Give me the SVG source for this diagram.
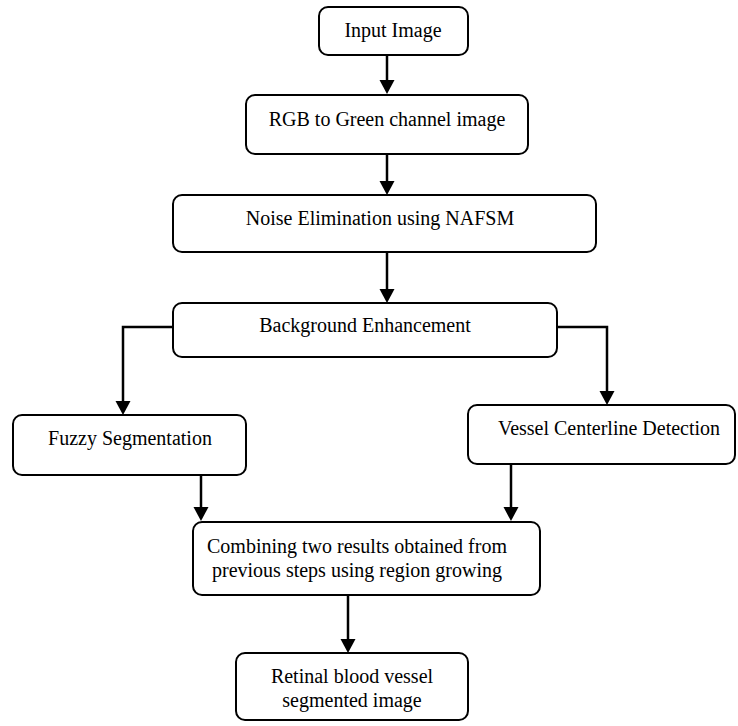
<svg xmlns="http://www.w3.org/2000/svg" width="738" height="726" viewBox="0 0 738 726">
<style>
.box{fill:#fff;stroke:#000;stroke-width:2}
.t{font-family:"Liberation Serif","Times New Roman",serif;font-size:20px;fill:#000;text-anchor:middle}
.c{fill:none;stroke:#000;stroke-width:2.5}
</style>
<defs>
<marker id="ah" markerUnits="userSpaceOnUse" markerWidth="16" markerHeight="16" refX="8" refY="7.5" orient="auto">
<path d="M0,0 L14,7.5 L0,15 z" fill="#000"/>
</marker>
</defs>
<rect width="738" height="726" fill="#fff"/>
<g id="connectors">
<line class="c" x1="387" y1="55" x2="387" y2="88" marker-end="url(#ah)"/>
<line class="c" x1="387" y1="154" x2="387" y2="189" marker-end="url(#ah)"/>
<line class="c" x1="387" y1="252" x2="387" y2="297" marker-end="url(#ah)"/>
<polyline class="c" points="173,327 123,327 123,409" marker-end="url(#ah)"/>
<polyline class="c" points="557,327 607,327 607,399" marker-end="url(#ah)"/>
<line class="c" x1="201" y1="475" x2="201" y2="515" marker-end="url(#ah)"/>
<line class="c" x1="511" y1="464" x2="511" y2="515" marker-end="url(#ah)"/>
<line class="c" x1="348" y1="595" x2="348" y2="647" marker-end="url(#ah)"/>
</g>
<g id="input">
<rect class="box" x="319" y="7" width="149" height="48" rx="9"/>
<text class="t" x="393" y="37">Input Image</text>
</g>
<g id="rgb">
<rect class="box" x="246" y="95" width="282" height="59" rx="9"/>
<text class="t" x="387" y="126">RGB to Green channel image</text>
</g>
<g id="noise">
<rect class="box" x="173" y="195" width="423" height="57" rx="9"/>
<text class="t" x="380" y="225">Noise Elimination using NAFSM</text>
</g>
<g id="background">
<rect class="box" x="173" y="303" width="384" height="54" rx="9"/>
<text class="t" x="365" y="332">Background Enhancement</text>
</g>
<g id="fuzzy">
<rect class="box" x="13" y="415" width="233" height="60" rx="9"/>
<text class="t" x="130" y="445">Fuzzy Segmentation</text>
</g>
<g id="vessel">
<rect class="box" x="468" y="405" width="267" height="59" rx="9"/>
<text class="t" x="609" y="435">Vessel Centerline Detection</text>
</g>
<g id="combine">
<rect class="box" x="193" y="522" width="347" height="73" rx="9"/>
<text class="t" x="357" y="553">Combining two results obtained from</text>
<text class="t" x="357" y="577">previous steps using region growing</text>
</g>
<g id="retinal">
<rect class="box" x="236" y="653" width="232" height="67" rx="9"/>
<text class="t" x="352" y="683">Retinal blood vessel</text>
<text class="t" x="352" y="707">segmented image</text>
</g>
</svg>
